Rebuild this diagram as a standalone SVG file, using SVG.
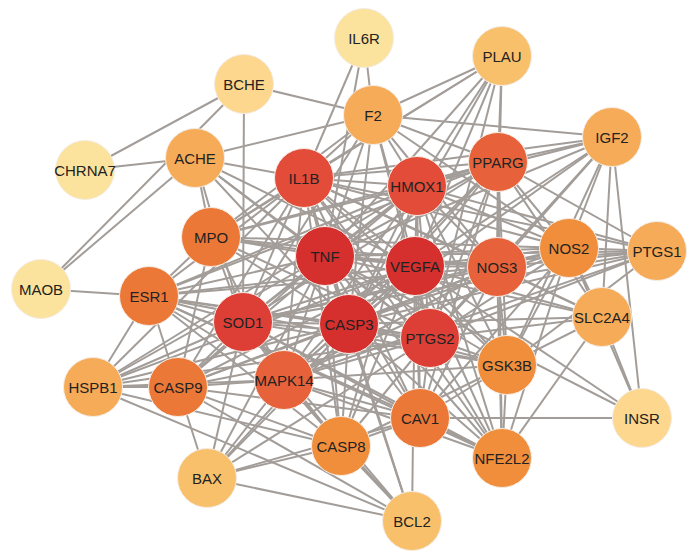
<svg xmlns="http://www.w3.org/2000/svg" width="700" height="556" viewBox="0 0 700 556">
<style>
.e{stroke:#a39d99;stroke-width:2;fill:none}
.n circle{stroke:#f4ece4;stroke-width:1}
.n text{font-family:"Liberation Sans",Arial,sans-serif;font-size:15px;fill:#222;text-anchor:middle}
.c1{fill:#fce39d}.c2{fill:#fcd78d}.c3{fill:#f9c06b}.c4{fill:#f6ab58}.c5{fill:#f08e3c}
.c6{fill:#ec7838}.c7{fill:#e7623a}.c8{fill:#e24c38}.c9{fill:#dd3f37}.c10{fill:#d52f2e}
</style>
<rect width="700" height="556" fill="#fff"/>
<g id="edges" class="e">
<line x1="364" y1="38" x2="373" y2="115"/><line x1="364" y1="38" x2="304" y2="178"/><line x1="364" y1="38" x2="325" y2="256"/>
<line x1="85" y1="170" x2="244" y2="84"/><line x1="85" y1="170" x2="195" y2="158"/>
<line x1="41" y1="289" x2="149" y2="296"/><line x1="41" y1="289" x2="195" y2="158"/><line x1="41" y1="289" x2="244" y2="84"/>
<line x1="244" y1="84" x2="373" y2="115"/><line x1="244" y1="84" x2="243" y2="322"/>
<line x1="195" y1="158" x2="373" y2="115"/><line x1="195" y1="158" x2="304" y2="178"/><line x1="195" y1="158" x2="211" y2="237"/><line x1="195" y1="158" x2="243" y2="322"/><line x1="195" y1="158" x2="325" y2="256"/><line x1="195" y1="158" x2="415" y2="266"/><line x1="195" y1="158" x2="349" y2="324"/><line x1="195" y1="158" x2="430" y2="338"/>
<line x1="373" y1="115" x2="502" y2="56"/><line x1="373" y1="115" x2="612" y2="137"/><line x1="373" y1="115" x2="304" y2="178"/><line x1="373" y1="115" x2="325" y2="256"/><line x1="373" y1="115" x2="415" y2="266"/><line x1="373" y1="115" x2="417" y2="186"/><line x1="373" y1="115" x2="349" y2="324"/><line x1="373" y1="115" x2="430" y2="338"/><line x1="373" y1="115" x2="243" y2="322"/><line x1="373" y1="115" x2="498" y2="162"/><line x1="373" y1="115" x2="497" y2="267"/><line x1="373" y1="115" x2="211" y2="237"/><line x1="373" y1="115" x2="569" y2="248"/>
<line x1="502" y1="56" x2="304" y2="178"/><line x1="502" y1="56" x2="417" y2="186"/><line x1="502" y1="56" x2="325" y2="256"/><line x1="502" y1="56" x2="415" y2="266"/><line x1="502" y1="56" x2="498" y2="162"/><line x1="502" y1="56" x2="497" y2="267"/><line x1="502" y1="56" x2="430" y2="338"/><line x1="502" y1="56" x2="349" y2="324"/><line x1="502" y1="56" x2="211" y2="237"/>
<line x1="612" y1="137" x2="498" y2="162"/><line x1="612" y1="137" x2="417" y2="186"/><line x1="612" y1="137" x2="415" y2="266"/><line x1="612" y1="137" x2="325" y2="256"/><line x1="612" y1="137" x2="304" y2="178"/><line x1="612" y1="137" x2="497" y2="267"/><line x1="612" y1="137" x2="349" y2="324"/><line x1="612" y1="137" x2="569" y2="248"/><line x1="612" y1="137" x2="602" y2="317"/><line x1="612" y1="137" x2="642" y2="418"/><line x1="612" y1="137" x2="507" y2="365"/><line x1="612" y1="137" x2="430" y2="338"/>
<line x1="657" y1="251" x2="569" y2="248"/><line x1="657" y1="251" x2="497" y2="267"/><line x1="657" y1="251" x2="415" y2="266"/><line x1="657" y1="251" x2="325" y2="256"/><line x1="657" y1="251" x2="304" y2="178"/><line x1="657" y1="251" x2="430" y2="338"/><line x1="657" y1="251" x2="349" y2="324"/><line x1="657" y1="251" x2="498" y2="162"/><line x1="657" y1="251" x2="417" y2="186"/><line x1="657" y1="251" x2="243" y2="322"/><line x1="657" y1="251" x2="507" y2="365"/><line x1="657" y1="251" x2="284" y2="380"/>
<line x1="602" y1="317" x2="642" y2="418"/><line x1="602" y1="317" x2="507" y2="365"/><line x1="602" y1="317" x2="502" y2="458"/><line x1="602" y1="317" x2="415" y2="266"/><line x1="602" y1="317" x2="497" y2="267"/><line x1="602" y1="317" x2="325" y2="256"/><line x1="602" y1="317" x2="498" y2="162"/><line x1="602" y1="317" x2="430" y2="338"/><line x1="602" y1="317" x2="349" y2="324"/><line x1="602" y1="317" x2="304" y2="178"/><line x1="602" y1="317" x2="569" y2="248"/>
<line x1="642" y1="418" x2="420" y2="418"/><line x1="642" y1="418" x2="415" y2="266"/><line x1="642" y1="418" x2="569" y2="248"/><line x1="642" y1="418" x2="325" y2="256"/>
<line x1="93" y1="387" x2="149" y2="296"/><line x1="93" y1="387" x2="178" y2="387"/><line x1="93" y1="387" x2="284" y2="380"/><line x1="93" y1="387" x2="243" y2="322"/><line x1="93" y1="387" x2="325" y2="256"/><line x1="93" y1="387" x2="415" y2="266"/><line x1="93" y1="387" x2="349" y2="324"/><line x1="93" y1="387" x2="430" y2="338"/><line x1="93" y1="387" x2="341" y2="446"/><line x1="93" y1="387" x2="412" y2="521"/><line x1="93" y1="387" x2="304" y2="178"/><line x1="93" y1="387" x2="417" y2="186"/>
<line x1="207" y1="478" x2="178" y2="387"/><line x1="207" y1="478" x2="284" y2="380"/><line x1="207" y1="478" x2="349" y2="324"/><line x1="207" y1="478" x2="325" y2="256"/><line x1="207" y1="478" x2="415" y2="266"/><line x1="207" y1="478" x2="341" y2="446"/><line x1="207" y1="478" x2="430" y2="338"/><line x1="207" y1="478" x2="420" y2="418"/><line x1="207" y1="478" x2="412" y2="521"/><line x1="207" y1="478" x2="243" y2="322"/>
<line x1="412" y1="521" x2="341" y2="446"/><line x1="412" y1="521" x2="284" y2="380"/><line x1="412" y1="521" x2="243" y2="322"/><line x1="412" y1="521" x2="178" y2="387"/><line x1="412" y1="521" x2="349" y2="324"/><line x1="412" y1="521" x2="325" y2="256"/><line x1="412" y1="521" x2="415" y2="266"/>
<line x1="325" y1="256" x2="415" y2="266"/><line x1="325" y1="256" x2="349" y2="324"/><line x1="325" y1="256" x2="243" y2="322"/><line x1="325" y1="256" x2="430" y2="338"/><line x1="325" y1="256" x2="304" y2="178"/><line x1="325" y1="256" x2="417" y2="186"/>
<line x1="415" y1="266" x2="349" y2="324"/><line x1="415" y1="266" x2="243" y2="322"/><line x1="415" y1="266" x2="430" y2="338"/><line x1="415" y1="266" x2="304" y2="178"/><line x1="415" y1="266" x2="417" y2="186"/>
<line x1="349" y1="324" x2="243" y2="322"/><line x1="349" y1="324" x2="430" y2="338"/><line x1="349" y1="324" x2="304" y2="178"/><line x1="349" y1="324" x2="417" y2="186"/>
<line x1="243" y1="322" x2="430" y2="338"/><line x1="243" y1="322" x2="304" y2="178"/><line x1="243" y1="322" x2="417" y2="186"/>
<line x1="430" y1="338" x2="304" y2="178"/><line x1="430" y1="338" x2="417" y2="186"/><line x1="304" y1="178" x2="417" y2="186"/>
<line x1="498" y1="162" x2="325" y2="256"/><line x1="498" y1="162" x2="415" y2="266"/><line x1="498" y1="162" x2="349" y2="324"/><line x1="498" y1="162" x2="243" y2="322"/><line x1="498" y1="162" x2="430" y2="338"/><line x1="498" y1="162" x2="304" y2="178"/><line x1="498" y1="162" x2="417" y2="186"/>
<line x1="497" y1="267" x2="325" y2="256"/><line x1="497" y1="267" x2="415" y2="266"/><line x1="497" y1="267" x2="349" y2="324"/><line x1="497" y1="267" x2="243" y2="322"/><line x1="497" y1="267" x2="430" y2="338"/><line x1="497" y1="267" x2="304" y2="178"/><line x1="497" y1="267" x2="417" y2="186"/>
<line x1="284" y1="380" x2="325" y2="256"/><line x1="284" y1="380" x2="415" y2="266"/><line x1="284" y1="380" x2="349" y2="324"/><line x1="284" y1="380" x2="243" y2="322"/><line x1="284" y1="380" x2="430" y2="338"/><line x1="284" y1="380" x2="304" y2="178"/><line x1="284" y1="380" x2="417" y2="186"/>
<line x1="211" y1="237" x2="325" y2="256"/><line x1="211" y1="237" x2="415" y2="266"/><line x1="211" y1="237" x2="349" y2="324"/><line x1="211" y1="237" x2="243" y2="322"/><line x1="211" y1="237" x2="430" y2="338"/><line x1="211" y1="237" x2="304" y2="178"/><line x1="211" y1="237" x2="417" y2="186"/>
<line x1="149" y1="296" x2="325" y2="256"/><line x1="149" y1="296" x2="415" y2="266"/><line x1="149" y1="296" x2="349" y2="324"/><line x1="149" y1="296" x2="243" y2="322"/><line x1="149" y1="296" x2="430" y2="338"/><line x1="149" y1="296" x2="304" y2="178"/><line x1="149" y1="296" x2="417" y2="186"/>
<line x1="178" y1="387" x2="325" y2="256"/><line x1="178" y1="387" x2="415" y2="266"/><line x1="178" y1="387" x2="349" y2="324"/><line x1="178" y1="387" x2="243" y2="322"/><line x1="178" y1="387" x2="430" y2="338"/><line x1="178" y1="387" x2="304" y2="178"/><line x1="178" y1="387" x2="417" y2="186"/>
<line x1="420" y1="418" x2="325" y2="256"/><line x1="420" y1="418" x2="415" y2="266"/><line x1="420" y1="418" x2="349" y2="324"/><line x1="420" y1="418" x2="243" y2="322"/><line x1="420" y1="418" x2="430" y2="338"/><line x1="420" y1="418" x2="304" y2="178"/><line x1="420" y1="418" x2="417" y2="186"/>
<line x1="569" y1="248" x2="325" y2="256"/><line x1="569" y1="248" x2="415" y2="266"/><line x1="569" y1="248" x2="349" y2="324"/><line x1="569" y1="248" x2="243" y2="322"/><line x1="569" y1="248" x2="430" y2="338"/><line x1="569" y1="248" x2="304" y2="178"/><line x1="569" y1="248" x2="417" y2="186"/>
<line x1="507" y1="365" x2="325" y2="256"/><line x1="507" y1="365" x2="415" y2="266"/><line x1="507" y1="365" x2="349" y2="324"/><line x1="507" y1="365" x2="243" y2="322"/><line x1="507" y1="365" x2="430" y2="338"/><line x1="507" y1="365" x2="304" y2="178"/><line x1="507" y1="365" x2="417" y2="186"/>
<line x1="502" y1="458" x2="325" y2="256"/><line x1="502" y1="458" x2="415" y2="266"/><line x1="502" y1="458" x2="349" y2="324"/><line x1="502" y1="458" x2="243" y2="322"/><line x1="502" y1="458" x2="430" y2="338"/><line x1="502" y1="458" x2="304" y2="178"/><line x1="502" y1="458" x2="417" y2="186"/>
<line x1="341" y1="446" x2="325" y2="256"/><line x1="341" y1="446" x2="415" y2="266"/><line x1="341" y1="446" x2="349" y2="324"/><line x1="341" y1="446" x2="243" y2="322"/><line x1="341" y1="446" x2="430" y2="338"/><line x1="341" y1="446" x2="304" y2="178"/><line x1="341" y1="446" x2="417" y2="186"/>
<line x1="498" y1="162" x2="497" y2="267"/><line x1="498" y1="162" x2="569" y2="248"/><line x1="498" y1="162" x2="507" y2="365"/><line x1="498" y1="162" x2="502" y2="458"/><line x1="498" y1="162" x2="420" y2="418"/><line x1="498" y1="162" x2="211" y2="237"/><line x1="498" y1="162" x2="149" y2="296"/><line x1="498" y1="162" x2="284" y2="380"/>
<line x1="497" y1="267" x2="569" y2="248"/><line x1="497" y1="267" x2="507" y2="365"/><line x1="497" y1="267" x2="502" y2="458"/><line x1="497" y1="267" x2="420" y2="418"/><line x1="497" y1="267" x2="211" y2="237"/><line x1="497" y1="267" x2="149" y2="296"/><line x1="497" y1="267" x2="284" y2="380"/><line x1="497" y1="267" x2="178" y2="387"/>
<line x1="284" y1="380" x2="178" y2="387"/><line x1="284" y1="380" x2="341" y2="446"/><line x1="284" y1="380" x2="420" y2="418"/><line x1="284" y1="380" x2="507" y2="365"/><line x1="284" y1="380" x2="502" y2="458"/><line x1="284" y1="380" x2="149" y2="296"/><line x1="284" y1="380" x2="211" y2="237"/><line x1="284" y1="380" x2="569" y2="248"/>
<line x1="211" y1="237" x2="149" y2="296"/><line x1="211" y1="237" x2="569" y2="248"/><line x1="211" y1="237" x2="178" y2="387"/>
<line x1="149" y1="296" x2="178" y2="387"/><line x1="149" y1="296" x2="420" y2="418"/><line x1="149" y1="296" x2="507" y2="365"/><line x1="149" y1="296" x2="502" y2="458"/><line x1="149" y1="296" x2="341" y2="446"/>
<line x1="178" y1="387" x2="341" y2="446"/><line x1="178" y1="387" x2="420" y2="418"/>
<line x1="420" y1="418" x2="507" y2="365"/><line x1="420" y1="418" x2="502" y2="458"/><line x1="420" y1="418" x2="569" y2="248"/><line x1="420" y1="418" x2="341" y2="446"/>
<line x1="569" y1="248" x2="507" y2="365"/><line x1="569" y1="248" x2="502" y2="458"/><line x1="507" y1="365" x2="502" y2="458"/><line x1="507" y1="365" x2="341" y2="446"/>
</g>
<g id="IL6R" class="n"><circle class="c1" cx="364" cy="38" r="29.5"/><text x="364" y="43.5">IL6R</text></g>
<g id="PLAU" class="n"><circle class="c3" cx="502" cy="56" r="29.5"/><text x="502" y="61.5">PLAU</text></g>
<g id="BCHE" class="n"><circle class="c2" cx="244" cy="84" r="29.5"/><text x="244" y="89.5">BCHE</text></g>
<g id="F2" class="n"><circle class="c4" cx="373" cy="115" r="29.5"/><text x="373" y="120.5">F2</text></g>
<g id="IGF2" class="n"><circle class="c4" cx="612" cy="137" r="29.5"/><text x="612" y="142.5">IGF2</text></g>
<g id="CHRNA7" class="n"><circle class="c1" cx="85" cy="170" r="29.5"/><text x="85" y="175.5">CHRNA7</text></g>
<g id="ACHE" class="n"><circle class="c4" cx="195" cy="158" r="29.5"/><text x="195" y="163.5">ACHE</text></g>
<g id="IL1B" class="n"><circle class="c8" cx="304" cy="178" r="29.5"/><text x="304" y="183.5">IL1B</text></g>
<g id="HMOX1" class="n"><circle class="c8" cx="417" cy="186" r="29.5"/><text x="417" y="191.5">HMOX1</text></g>
<g id="PPARG" class="n"><circle class="c7" cx="498" cy="162" r="29.5"/><text x="498" y="167.5">PPARG</text></g>
<g id="MPO" class="n"><circle class="c6" cx="211" cy="237" r="29.5"/><text x="211" y="242.5">MPO</text></g>
<g id="TNF" class="n"><circle class="c10" cx="325" cy="256" r="29.5"/><text x="325" y="261.5">TNF</text></g>
<g id="VEGFA" class="n"><circle class="c10" cx="415" cy="266" r="29.5"/><text x="415" y="271.5">VEGFA</text></g>
<g id="NOS3" class="n"><circle class="c7" cx="497" cy="267" r="29.5"/><text x="497" y="272.5">NOS3</text></g>
<g id="NOS2" class="n"><circle class="c5" cx="569" cy="248" r="29.5"/><text x="569" y="253.5">NOS2</text></g>
<g id="PTGS1" class="n"><circle class="c4" cx="657" cy="251" r="29.5"/><text x="657" y="256.5">PTGS1</text></g>
<g id="MAOB" class="n"><circle class="c1" cx="41" cy="289" r="29.5"/><text x="41" y="294.5">MAOB</text></g>
<g id="ESR1" class="n"><circle class="c6" cx="149" cy="296" r="29.5"/><text x="149" y="301.5">ESR1</text></g>
<g id="SOD1" class="n"><circle class="c9" cx="243" cy="322" r="29.5"/><text x="243" y="327.5">SOD1</text></g>
<g id="CASP3" class="n"><circle class="c10" cx="349" cy="324" r="29.5"/><text x="349" y="329.5">CASP3</text></g>
<g id="PTGS2" class="n"><circle class="c9" cx="430" cy="338" r="29.5"/><text x="430" y="343.5">PTGS2</text></g>
<g id="SLC2A4" class="n"><circle class="c4" cx="602" cy="317" r="29.5"/><text x="602" y="322.5">SLC2A4</text></g>
<g id="GSK3B" class="n"><circle class="c5" cx="507" cy="365" r="29.5"/><text x="507" y="370.5">GSK3B</text></g>
<g id="HSPB1" class="n"><circle class="c4" cx="93" cy="387" r="29.5"/><text x="93" y="392.5">HSPB1</text></g>
<g id="CASP9" class="n"><circle class="c6" cx="178" cy="387" r="29.5"/><text x="178" y="392.5">CASP9</text></g>
<g id="MAPK14" class="n"><circle class="c7" cx="284" cy="380" r="29.5"/><text x="284" y="385.5">MAPK14</text></g>
<g id="CAV1" class="n"><circle class="c6" cx="420" cy="418" r="29.5"/><text x="420" y="423.5">CAV1</text></g>
<g id="INSR" class="n"><circle class="c2" cx="642" cy="418" r="29.5"/><text x="642" y="423.5">INSR</text></g>
<g id="CASP8" class="n"><circle class="c5" cx="341" cy="446" r="29.5"/><text x="341" y="451.5">CASP8</text></g>
<g id="NFE2L2" class="n"><circle class="c5" cx="502" cy="458" r="29.5"/><text x="502" y="463.5">NFE2L2</text></g>
<g id="BAX" class="n"><circle class="c3" cx="207" cy="478" r="29.5"/><text x="207" y="483.5">BAX</text></g>
<g id="BCL2" class="n"><circle class="c3" cx="412" cy="521" r="29.5"/><text x="412" y="526.5">BCL2</text></g>
</svg>
